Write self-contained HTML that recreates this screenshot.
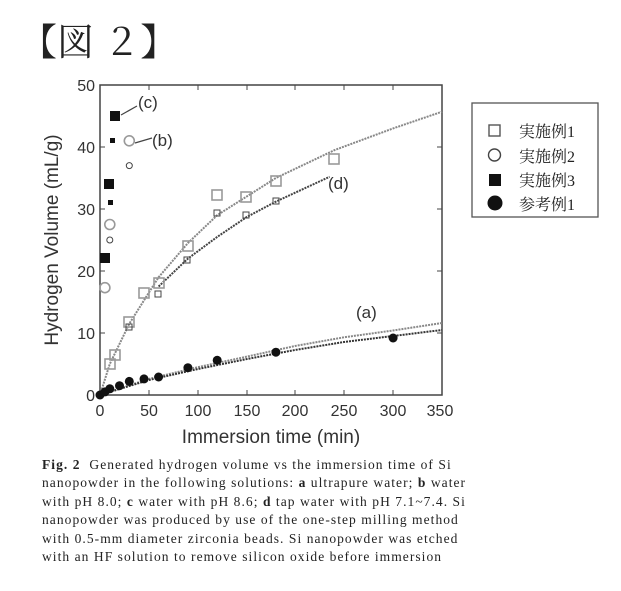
<!DOCTYPE html>
<html><head><meta charset="utf-8"><style>
body{margin:0;background:#fff;width:621px;height:591px;overflow:hidden;position:relative;font-family:"Liberation Sans","Noto Sans CJK JP",sans-serif}
.t{position:absolute;left:20px;top:12px;font-family:"Liberation Serif","Noto Serif CJK SC",serif;font-size:37px;color:#222}
.cap{position:absolute;left:42px;top:456px;font-family:"Liberation Serif","Noto Serif CJK SC",serif;font-size:13.5px;letter-spacing:1.05px;line-height:18.4px;color:#222;white-space:nowrap}
</style></head><body>
<div class="t">【図 ２】</div>
<svg width="621" height="591" style="position:absolute;left:0;top:0">
<rect x="100" y="85" width="342" height="310" fill="none" stroke="#444" stroke-width="1.5"/>
<g stroke="#444" stroke-width="1">
<path d="M149,395v-5M198,395v-5M247,395v-5M295,395v-5M344,395v-5M393,395v-5M149,85v5M198,85v5M247,85v5M295,85v5M344,85v5M393,85v5M100,333h5M100,271h5M100,209h5M100,147h5M442,333h-5M442,271h-5M442,209h-5M442,147h-5"/>
</g>
<g font-size="16" fill="#333" text-anchor="end">
<text x="95" y="401">0</text><text x="95" y="339">10</text><text x="95" y="277">20</text><text x="95" y="215">30</text><text x="95" y="153">40</text><text x="95" y="91">50</text>
</g>
<g font-size="16" fill="#333" text-anchor="middle">
<text x="100" y="416">0</text><text x="149" y="416">50</text><text x="198" y="416">100</text><text x="247" y="416">150</text><text x="295" y="416">200</text><text x="344" y="416">250</text><text x="393" y="416">300</text><text x="440" y="416">350</text>
</g>
<text x="271" y="443" font-size="19" fill="#333" text-anchor="middle">Immersion time (min)</text>
<text transform="translate(58,240) rotate(-90)" font-size="19" fill="#333" text-anchor="middle">Hydrogen Volume (mL/g)</text>
<g fill="none" stroke="#888" stroke-width="2" stroke-dasharray="2,1">
<polyline points="100,395 109.8,364 129.3,323.7 158.6,277.2 187.9,243.1 217.2,215.2 275.9,178 334.5,150.1 393.1,128.4 442,111.7"/>
<polyline stroke="#444" points="158.6,286.5 187.9,258.6 217.2,236.9 246.6,217.1 275.9,201.6 329.6,176.8"/>
<polyline points="100,395 149,378.9 198,367.1 247,356.6 295,346 344,337.3 393,330.5 442,323"/>
<polyline stroke="#333" points="100,395 149,380 198,369 247,359 295,350 344,342 393,336 442,330"/>
</g>
<g fill="none" stroke="#999" stroke-width="1.6">
<rect x="105" y="359" width="10" height="10"/><rect x="110" y="350" width="10" height="10"/><rect x="124" y="317" width="10" height="10"/><rect x="139" y="288" width="10" height="10"/><rect x="154" y="278" width="10" height="10"/><rect x="183" y="241" width="10" height="10"/><rect x="212" y="190" width="10" height="10"/><rect x="241" y="192" width="10" height="10"/><rect x="271" y="176" width="10" height="10"/><rect x="329" y="154" width="10" height="10"/>
<circle cx="104.9" cy="287.7" r="5"/><circle cx="109.8" cy="224.5" r="5"/><circle cx="129.3" cy="140.8" r="5"/>
</g>
<g fill="none" stroke="#444" stroke-width="1">
<rect x="126" y="324" width="6" height="6"/><rect x="155" y="291" width="6" height="6"/><rect x="184" y="257" width="6" height="6"/><rect x="214" y="210" width="6" height="6"/><rect x="243" y="212" width="6" height="6"/><rect x="273" y="198" width="6" height="6"/>
<circle cx="109.8" cy="240" r="3"/><circle cx="129.3" cy="165.6" r="3"/>
</g>
<g fill="#111">
<rect x="100" y="253" width="10" height="10"/><rect x="104" y="179" width="10" height="10"/><rect x="110" y="111" width="10" height="10"/><rect x="110" y="138" width="5" height="5"/><rect x="108" y="200" width="5" height="5"/>
<circle cx="100" cy="395" r="4.5"/><circle cx="104.9" cy="391.9" r="4.5"/><circle cx="109.8" cy="388.8" r="4.5"/><circle cx="119.5" cy="385.7" r="4.5"/><circle cx="129.3" cy="381.4" r="4.5"/><circle cx="144" cy="378.9" r="4.5"/><circle cx="158.6" cy="377" r="4.5"/><circle cx="187.9" cy="367.7" r="4.5"/><circle cx="217.2" cy="360.3" r="4.5"/><circle cx="275.9" cy="352.2" r="4.5"/><circle cx="393.1" cy="338" r="4.5"/>
</g>
<path d="M121,115 L137,106M135,143 L152,138" stroke="#444" stroke-width="1.2" fill="none"/>
<g font-size="17" fill="#333">
<text x="138" y="108">(c)</text><text x="152" y="146">(b)</text><text x="328" y="189">(d)</text><text x="356" y="318">(a)</text>
</g>
<rect x="472" y="103" width="126" height="114" fill="#fff" stroke="#555" stroke-width="1.3"/>
<g font-family="'Liberation Serif','Noto Serif CJK JP',serif" font-size="16" fill="#222">
<text x="519" y="137">実施例1</text><text x="519" y="162">実施例2</text><text x="519" y="186">実施例3</text><text x="519" y="210">参考例1</text>
</g>
<rect x="489" y="125" width="11" height="11" fill="none" stroke="#555" stroke-width="1.4"/>
<circle cx="494.5" cy="155" r="6" fill="none" stroke="#444" stroke-width="1.4"/>
<rect x="489" y="174" width="12" height="12" fill="#111"/>
<circle cx="495" cy="203" r="7.5" fill="#111"/>
</svg>
<div class="cap"><b>Fig. 2</b>&nbsp; Generated hydrogen volume vs the immersion time of Si<br>nanopowder in the following solutions: <b>a</b> ultrapure water; <b>b</b> water<br>with pH 8.0; <b>c</b> water with pH 8.6; <b>d</b> tap water with pH 7.1~7.4. Si<br>nanopowder was produced by use of the one-step milling method<br>with 0.5-mm diameter zirconia beads. Si nanopowder was etched<br>with an HF solution to remove silicon oxide before immersion</div>
</body></html>
